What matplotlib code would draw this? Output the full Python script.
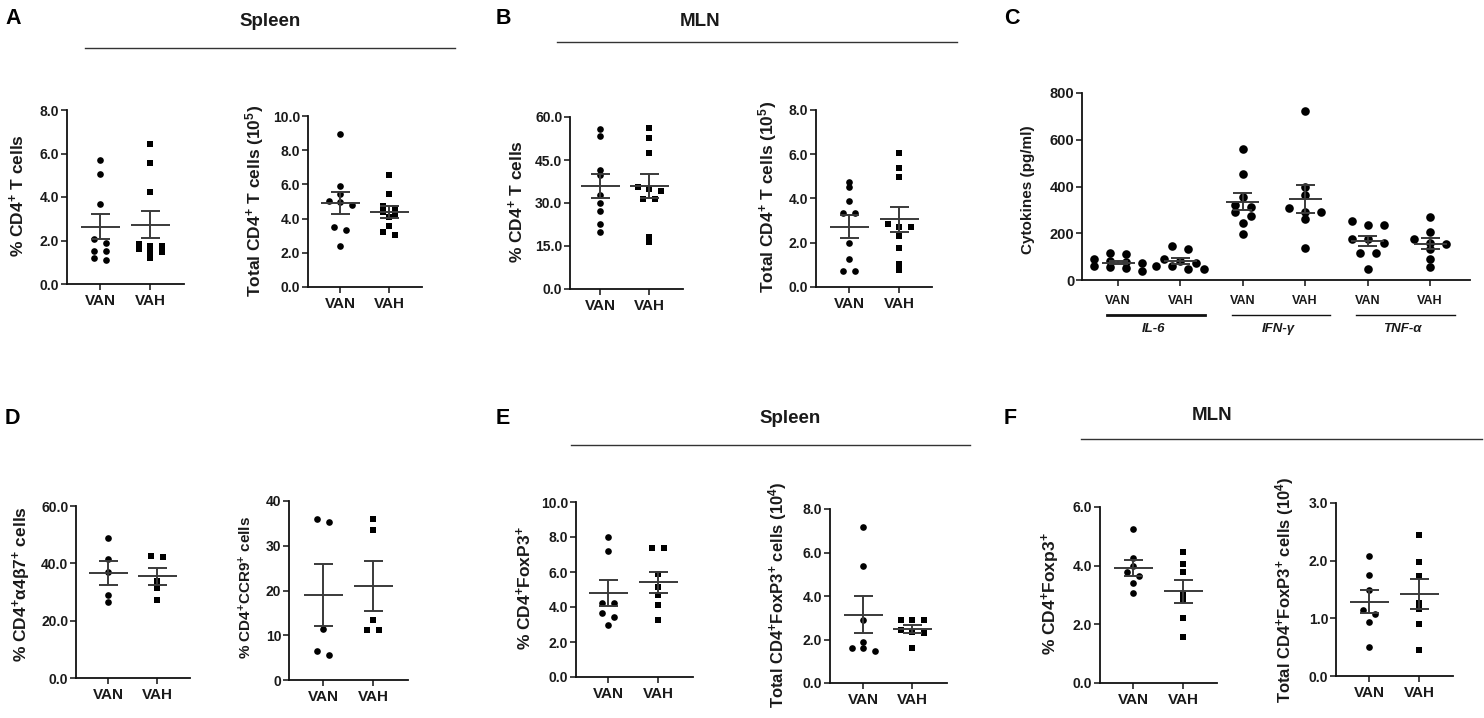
import numpy as np
import matplotlib
matplotlib.use('Agg')
import matplotlib.pyplot as plt

plt.rcParams['font.family'] = ['Liberation Sans', 'DejaVu Sans']
plt.rcParams['mathtext.fontset'] = 'custom'
plt.rcParams['mathtext.rm'] = 'Liberation Sans'
plt.rcParams['mathtext.bf'] = 'Liberation Sans:bold'
plt.rcParams['mathtext.it'] = 'Liberation Sans:italic'

groups = ['VAN', 'VAH']

# ---- Panel A (Spleen) ----
a_pct_van = [5.70, 5.06, 3.66, 2.06, 1.88, 1.54, 1.54, 1.19, 1.12]
a_pct_vah = [6.44, 5.58, 4.22, 1.85, 1.75, 1.75, 1.60, 1.45, 1.45, 1.18]
a_tot_van = [8.97, 5.90, 5.42, 5.05, 4.98, 4.80, 3.51, 3.31, 2.40]
a_tot_vah = [6.53, 5.42, 4.72, 4.60, 4.39, 4.29, 4.09, 3.59, 3.22, 3.02]
# ---- Panel B (MLN) ----
b_pct_van = [55.7, 53.5, 41.5, 39.6, 32.7, 30.1, 27.2, 22.7, 19.9]
b_pct_vah = [56.3, 52.8, 47.3, 35.5, 34.8, 34.2, 31.4, 31.3, 18.0, 16.3]
b_tot_van = [4.75, 4.53, 3.89, 3.35, 3.35, 2.01, 1.28, 0.72, 0.72]
b_tot_vah = [6.07, 5.36, 4.98, 2.84, 2.72, 2.72, 2.31, 1.78, 1.06, 0.75]
# ---- Panel C (cytokines, pg/ml) ----
cyto_names = ['IL-6', 'IFN-γ', 'TNF-α']
il6_van = [115, 110, 88, 80, 78, 72, 60, 55, 50, 38]
il6_vah = [145, 132, 88, 80, 72, 62, 60, 45, 45]
ifn_van = [562, 453, 356, 320, 313, 292, 275, 245, 195]
ifn_vah = [722, 399, 363, 310, 293, 292, 263, 138]
tnf_van = [252, 235, 235, 174, 174, 159, 117, 117, 47]
tnf_vah = [270, 206, 174, 159, 152, 131, 88, 57]
# ---- Panel D ----
d_a4b7_van = [49.0, 41.6, 37.0, 29.1, 26.4]
d_a4b7_vah = [42.5, 42.2, 33.8, 31.5, 27.1]
d_ccr9_van = [36.0, 35.4, 11.3, 6.5, 5.5]
d_ccr9_vah = [36.0, 33.5, 13.3, 11.2, 11.2]
# ---- Panel E (Spleen Treg) ----
e_pct_van = [7.98, 7.19, 4.24, 4.24, 3.66, 3.44, 3.00]
e_pct_vah = [7.40, 7.40, 5.88, 5.15, 4.68, 4.14, 3.24]
e_tot_van = [7.17, 5.36, 2.88, 1.87, 1.59, 1.59, 1.46]
e_tot_vah = [2.91, 2.91, 2.91, 2.45, 2.33, 2.30, 1.59]
# ---- Panel F (MLN Treg) ----
f_pct_van = [5.26, 4.25, 4.00, 3.79, 3.65, 3.40, 3.08]
f_pct_vah = [4.47, 4.04, 3.77, 3.00, 2.83, 2.23, 1.56]
f_tot_van = [2.08, 1.76, 1.50, 1.15, 1.08, 0.94, 0.51]
f_tot_vah = [2.45, 1.98, 1.73, 1.27, 1.17, 0.90, 0.45]

W, H = 1484, 718
fig = plt.figure(figsize=(W / 100, H / 100), dpi=100)
TXT = '#1a1a1a'
LINE = '#333333'


def px_axes(L, R, T, B):
    return fig.add_axes([L / W, 1 - B / H, (R - L) / W, (B - T) / H])


def swarm(ypx, thresh, spacing):
    order = np.argsort(-ypx, kind='stable')
    rows = []
    for i in order:
        if rows and abs(ypx[rows[-1][0]] - ypx[i]) < thresh:
            rows[-1].append(i)
        else:
            rows.append([i])
    offs = np.zeros(len(ypx))
    for r in rows:
        n = len(r)
        for k, i in enumerate(r):
            offs[i] = (k - (n - 1) / 2) * spacing
    return offs


def style_axes(ax, ymax, yticks, fmt, xlabels, xpos, ytick_size=10, xtick_size=11):
    for s in ['top', 'right']:
        ax.spines[s].set_visible(False)
    for s in ['left', 'bottom']:
        ax.spines[s].set_linewidth(1.3)
        ax.spines[s].set_color('#111111')
    ax.set_ylim(0, ymax)
    ax.set_yticks(yticks)
    ax.set_yticklabels([fmt.format(v) for v in yticks], fontsize=ytick_size,
                       fontweight='bold', color=TXT)
    ax.set_xticks(xpos)
    ax.set_xticklabels(xlabels, fontsize=xtick_size, fontweight='bold', color=TXT)
    ax.tick_params(axis='y', length=4, width=1.1, pad=1.5, color='#111111')
    ax.tick_params(axis='x', length=4, width=1.1, pad=3, color='#111111')
    ax.patch.set_alpha(0)


def dots(ax, series, markers, xpos, thresh_px=4.6, spacing_px=11.5,
         mean_half_px=19.5, cap_half_px=9.5, ms=4.8):
    pos = ax.get_position()
    wpx, hpx = pos.width * W, pos.height * H
    xl, yl = ax.get_xlim(), ax.get_ylim()
    ux = (xl[1] - xl[0]) / wpx
    uy = (yl[1] - yl[0]) / hpx
    for vals, mk, x0 in zip(series, markers, xpos):
        v = np.asarray(vals, float)
        offs = swarm(v / uy, thresh_px, spacing_px)
        msz = ms if mk == 'o' else ms * 0.95
        ax.plot(x0 + offs * ux, v, linestyle='none', marker=mk, markersize=msz,
                color='black', markeredgewidth=0, zorder=3, clip_on=False)
        m = v.mean()
        se = v.std(ddof=1) / np.sqrt(len(v))
        kw = dict(color='#3a3a3a', lw=1.4, zorder=4, solid_capstyle='butt')
        ax.plot([x0 - mean_half_px * ux, x0 + mean_half_px * ux], [m, m], **kw)
        ax.plot([x0, x0], [m - se, m + se], **kw)
        for yy in (m - se, m + se):
            ax.plot([x0 - cap_half_px * ux, x0 + cap_half_px * ux], [yy, yy], **kw)


def two_group(L, R, T, B, vanx, vahx, ymax, yticks, fmt, van, vah, **kw):
    ax = px_axes(L, R, T, B)
    unit = vahx - vanx
    ax.set_xlim((L - vanx) / unit, (R - vanx) / unit)
    style_axes(ax, ymax, yticks, fmt, groups, [0, 1])
    dots(ax, [van, vah], ['o', 's'], [0, 1], **kw)
    return ax


def ylab(x, y, s, size=12.5, weight='bold'):
    fig.text(x / W, 1 - y / H, s, rotation=90, ha='center', va='center',
             fontsize=size, fontweight=weight, color=TXT)


def letter(x, y, s):
    fig.text(x / W, 1 - y / H, s, ha='left', va='center', fontsize=15.5,
             fontweight='bold', color='black')


def header(xc, y, s, x1, x2, ly):
    fig.text(xc / W, 1 - y / H, s, ha='center', va='center', fontsize=13.5,
             fontweight='bold', color=TXT)
    fig.add_artist(plt.Line2D([x1 / W, x2 / W], [1 - ly / H, 1 - ly / H],
                              color=LINE, lw=1.0))


f1 = '{:.1f}'
f0 = '{:.0f}'

# Row 1
two_group(67, 184, 110, 284, 100, 150, 8, [0, 2, 4, 6, 8], f1, a_pct_van, a_pct_vah)
two_group(308, 422, 116, 287, 340, 389, 10, [0, 2, 4, 6, 8, 10], f1, a_tot_van, a_tot_vah)
two_group(570, 683, 117, 289, 600, 649, 60, [0, 15, 30, 45, 60], f1, b_pct_van, b_pct_vah)
two_group(816, 932, 110, 287, 849, 899, 8, [0, 2, 4, 6, 8], f1, b_tot_van, b_tot_vah)

# Panel C
axc = px_axes(1082, 1470, 93, 280)
cpos = [0, 1, 2, 3, 4, 5]
unit_c = (1430 - 1118) / 5
axc.set_xlim((1082 - 1118) / unit_c, (1470 - 1118) / unit_c)
style_axes(axc, 800, [0, 200, 400, 600, 800], f0, groups * 3, cpos, ytick_size=10.5,
           xtick_size=9)
axc.tick_params(axis='x', length=4, pad=7)
dots(axc, [il6_van, il6_vah, ifn_van, ifn_vah, tnf_van, tnf_vah], ['o'] * 6, cpos,
     thresh_px=5.2, spacing_px=16, mean_half_px=16.5, cap_half_px=9.5, ms=6.2)
for k, name in enumerate(cyto_names):
    xa, xb = cpos[2 * k], cpos[2 * k + 1]
    x1 = (xa - 0.18) * unit_c + 1118
    x2 = (xb + 0.4) * unit_c + 1118
    lw = 2.0 if k == 0 else 1.0
    fig.add_artist(plt.Line2D([x1 / W, x2 / W], [1 - 315 / H, 1 - 315 / H],
                              color='#111111', lw=lw))
    xc = ((xa + xb) / 2) * unit_c + 1118 + 4
    fig.text(xc / W, 1 - 329 / H, name, ha='center', va='center', fontsize=9.5,
             fontstyle='italic', fontweight='bold', color=TXT)

# Row 2
two_group(76, 190, 506, 678, 108, 157, 60, [0, 20, 40, 60], f1, d_a4b7_van, d_a4b7_vah)
two_group(289, 408, 501, 680, 323, 373, 40, [0, 10, 20, 30, 40], f0, d_ccr9_van, d_ccr9_vah)
two_group(576, 693, 502, 677, 608, 658, 10, [0, 2, 4, 6, 8, 10], f1, e_pct_van, e_pct_vah)
two_group(830, 947, 509, 683, 863, 912, 8, [0, 2, 4, 6, 8], f1, e_tot_van, e_tot_vah)
two_group(1100, 1217, 507, 683, 1133, 1183, 6, [0, 2, 4, 6], f1, f_pct_van, f_pct_vah)
two_group(1336, 1453, 503, 676, 1369, 1419, 3, [0, 1, 2, 3], f1, f_tot_van, f_tot_vah)

# Y labels
P = r'$^{\mathbf{+}}$'
ylab(17, 196, '% CD4' + P + ' T cells')
ylab(255, 201, 'Total CD4' + P + ' T cells (10' + r'$^{\mathbf{5}}$' + ')')
ylab(516, 202, '% CD4' + P + ' T cells')
ylab(768, 197, 'Total CD4' + P + ' T cells (10' + r'$^{\mathbf{5}}$' + ')')
ylab(1028, 190, 'Cytokines (pg/ml)', size=11)
ylab(22, 584, '% CD4' + P + 'α4β7' + P + ' cells')
ylab(246, 588, '% CD4' + P + 'CCR9' + P + ' cells', size=11)
ylab(524, 588, '% CD4' + P + 'FoxP3' + P)
ylab(778, 595, 'Total CD4' + P + 'FoxP3' + P + ' cells (10' + r'$^{\mathbf{4}}$' + ')', size=12)
ylab(1051, 594, '% CD4' + P + 'Foxp3' + P)
ylab(1285, 590, 'Total CD4' + P + 'FoxP3' + P + ' cells (10' + r'$^{\mathbf{4}}$' + ')', size=12)

# Panel letters
letter(5, 19, 'A')
letter(496, 19, 'B')
letter(1004, 19, 'C')
letter(5, 418, 'D')
letter(496, 418, 'E')
letter(1004, 418, 'F')

# Headers
header(270, 22, 'Spleen', 85, 455, 48)
header(700, 22, 'MLN', 557, 957, 42)
header(790, 419, 'Spleen', 571, 970, 445)
header(1212, 416, 'MLN', 1081, 1482, 439)

fig.savefig('out.png', dpi=100)
